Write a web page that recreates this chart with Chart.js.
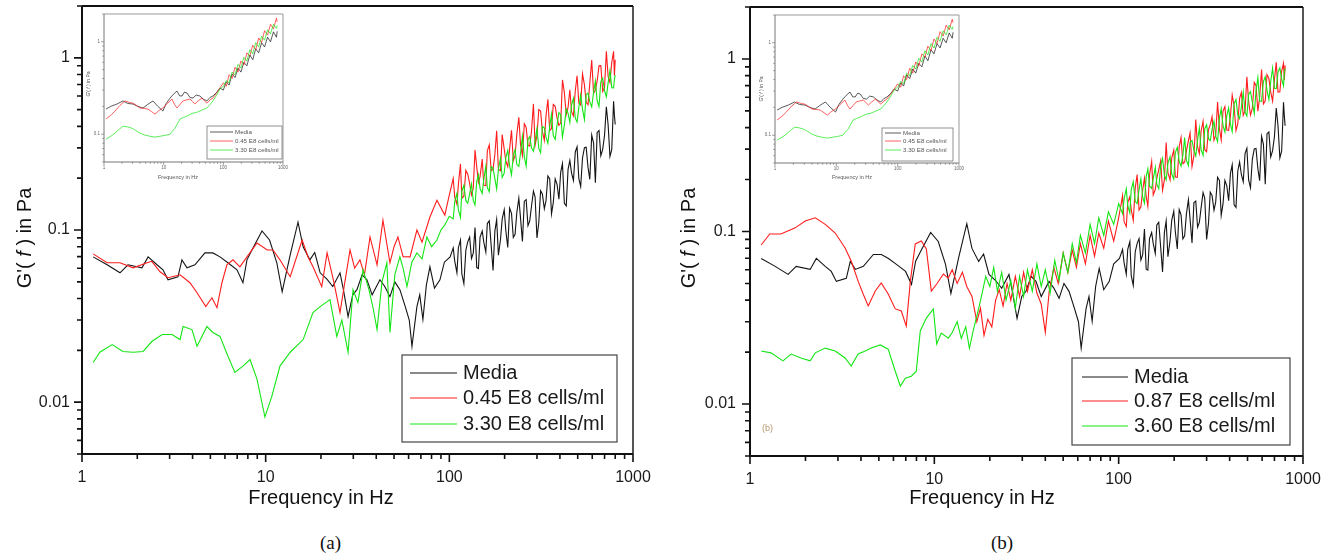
<!DOCTYPE html>
<html><head><meta charset="utf-8">
<script src="https://cdn.jsdelivr.net/npm/chart.js@4.4.1/dist/chart.umd.min.js"></script>
<style>
html,body{margin:0;padding:0;background:#fff;}
body{width:1333px;height:559px;position:relative;overflow:hidden;}
canvas{position:absolute;}
#mainA{left:0;top:0;} #mainB{left:666px;top:0;}
#insetA{left:78px;top:8px;} #insetB{left:749px;top:9px;}
.cap{position:absolute;top:533px;line-height:20px;font-family:"Liberation Serif","DejaVu Serif",serif;font-size:19px;color:#111;}
#capA{left:320px;} #capB{left:991px;}
#tagB{position:absolute;left:762px;top:423px;font:9px "Liberation Sans",Arial,sans-serif;color:#b89870;}
</style></head><body>
<canvas id="mainA" width="666" height="520"></canvas>
<canvas id="mainB" width="667" height="520"></canvas>
<canvas id="insetA" width="215" height="180"></canvas>
<canvas id="insetB" width="215" height="180"></canvas>
<div class="cap" id="capA">(a)</div>
<div class="cap" id="capB">(b)</div>
<div id="tagB">(b)</div>
<script>
// ---------- tick values / labels ----------
const xTickValues = [1, 10, 100, 1000];
const xTickLabels = ['1', '10', '100', '1000'];
const yTickValues = [0.01, 0.1, 1];
const yTickLabels = ['0.01', '0.1', '1'];
const insetYTickValues = [0.1, 1];
const insetYTickLabels = ['0.1', '1'];

// ---------- series names ----------
const namesA = ['Media', '0.45 E8 cells/ml', '3.30 E8 cells/ml'];
const namesB = ['Media', '0.87 E8 cells/ml', '3.60 E8 cells/ml'];
const namesInset = ['Media', '0.45 E8 cells/ml', '3.30 E8 cells/ml'];

// ---------- high-frequency grids (Hz) ----------
const hiFreq = [105,110,115,120,126,132,138,144,151,158,165,173,181,190,199,208,218,228,239,250,
  262,274,287,300,314,329,344,360,377,395,413,433,453,474,496,519,544,569,596,624,653,684,716,749,784,800];
const hiFreqMid = [107,112,117,123,129,135,141,147,154,161,169,177,185,194,203,213,223,233,244,256,
  268,280,293,307,321,336,352,368,386,404,423,443,463,485,507,531,556,582,610,638,668,700,732,766,792];

// ---------- Media (both panels) ----------
const mediaLo = [[1.15,0.0698],[1.37,0.0628],[1.61,0.0564],[1.78,0.0628],[2.12,0.0603],[2.29,0.0698],[2.56,0.0628],
  [2.76,0.0587],[2.94,0.0514],[3.33,0.0535],[3.50,0.0671],[3.73,0.0603],[4.12,0.0628],[4.67,0.0736],[5.16,0.0736],
  [5.64,0.0698],[6.23,0.0645],[6.98,0.0587],[7.52,0.0494],[7.91,0.0671],[8.42,0.0766],[9.55,0.0987],[10.5,0.0875],
  [11.5,0.0645],[12.3,0.0438],[13.6,0.0717],[15.0,0.111],[16.0,0.0798],[17.4,0.0671],[18.5,0.074],[19.8,0.0564],
  [21.5,0.052],[23.2,0.0469],[25.4,0.0564],[26.5,0.045],[28.1,0.0314],[29.8,0.042],[31.4,0.045],[33.5,0.055],
  [35.6,0.0514],[38,0.042],[41.9,0.0514],[44.5,0.047],[47.5,0.041],[50.5,0.05],[53.8,0.045],[57.5,0.036],[60.5,0.03],
  [62.6,0.0211],[66.6,0.0359],[69,0.042],[71.8,0.0302],[75,0.048],[78.4,0.0611],[83,0.046],[88.9,0.0514],[94,0.065],[101,0.0698]];
const mediaHi = [0.0787,0.0565,0.0875,0.0488,0.0854,0.0683,0.1035,0.0597,0.0987,0.0746,
  0.113,0.0582,0.115,0.0884,0.131,0.0792,0.125,0.0944,0.153,0.0857,
  0.150,0.113,0.168,0.0899,0.169,0.133,0.206,0.124,0.198,0.151,
  0.243,0.138,0.253,0.194,0.304,0.179,0.301,0.231,0.356,0.188,
  0.378,0.294,0.52,0.267,0.56,0.410];
const mediaMid = [0.0660,0.0789,0.0555,0.0763,0.0909,0.0734,0.0605,0.0910,0.0850,0.109,
  0.0811,0.0985,0.0714,0.116,0.0994,0.134,0.0905,0.126,0.118,0.147,
  0.106,0.137,0.156,0.111,0.162,0.148,0.198,0.144,0.184,0.217,
  0.143,0.225,0.214,0.284,0.199,0.262,0.303,0.197,0.320,0.369,
  0.270,0.355,0.409,0.293,0.466];

// ---------- Panel (a) ----------
const redALo = [[1.15,0.0727],[1.37,0.0645],[1.61,0.0645],[1.90,0.0603],[2.26,0.0645],[2.40,0.0658],[2.66,0.0572],
  [2.94,0.0528],[3.42,0.0549],[3.87,0.0494],[4.23,0.0432],[4.72,0.0359],[5.10,0.0404],[5.43,0.0354],[5.78,0.0494],
  [6.15,0.0628],[6.64,0.0671],[7.24,0.0611],[7.91,0.0698],[8.97,0.0841],[10.2,0.0766],[10.96,0.0766],[11.96,0.0671],
  [13.6,0.0535],[15.8,0.0875],[17,0.07],[18.1,0.0611],[20.2,0.0469],[21.6,0.0736],[23.5,0.05],[25.4,0.0331],[27,0.05],
  [28.8,0.0766],[30.5,0.06],[32.6,0.0671],[34.5,0.055],[37.0,0.0911],[40.4,0.0628],[43.5,0.114],[47.5,0.0645],[50,0.08],
  [52.5,0.0911],[56,0.07],[61.1,0.0698],[66.6,0.1],[71,0.085],[78.4,0.119],[85.6,0.149],[94.5,0.122],[100,0.16]];
const redAHi = [0.199,0.141,0.242,0.157,0.211,0.160,0.291,0.189,0.258,0.181,
  0.312,0.225,0.377,0.221,0.295,0.233,0.379,0.270,0.451,0.271,
  0.394,0.307,0.540,0.355,0.491,0.332,0.575,0.389,0.523,0.406,
  0.744,0.469,0.653,0.460,0.787,0.532,0.696,0.534,0.972,0.649,
  0.898,0.638,1.09,0.721,1.09,0.974];
const redAMid = [0.155,0.184,0.153,0.222,0.186,0.175,0.232,0.204,0.182,0.288,
  0.221,0.275,0.225,0.358,0.252,0.297,0.253,0.358,0.316,0.414,
  0.309,0.373,0.310,0.501,0.375,0.459,0.378,0.536,0.446,0.418,
  0.628,0.516,0.485,0.644,0.546,0.808,0.551,0.715,0.622,0.734,
  0.900,0.673,0.781,0.939,0.790];
const greenALo = [[1.15,0.0170],[1.25,0.0195],[1.46,0.0216],[1.67,0.0197],[1.90,0.0195],[2.15,0.0197],[2.40,0.0225],
  [2.73,0.0247],[3.09,0.0247],[3.42,0.0231],[3.55,0.0275],[3.97,0.0264],[4.23,0.0211],[4.79,0.0275],[5.16,0.0254],
  [5.64,0.0241],[6.23,0.0185],[6.80,0.0149],[7.52,0.0162],[8.22,0.0177],[8.97,0.0136],[9.91,0.0082],[10.8,0.0108],
  [11.96,0.0162],[13.6,0.0195],[16.0,0.0231],[18.1,0.0331],[19.8,0.0359],[22.4,0.0394],[24.4,0.0241],[26,0.03],
  [28.1,0.0195],[29.9,0.045],[31.8,0.038],[33.9,0.0587],[36.5,0.045],[38.5,0.035],[40.4,0.0264],[43,0.05],[45.7,0.0645],
  [47.5,0.0254],[50.5,0.055],[53.8,0.0698],[56,0.06],[58.8,0.0469],[62.5,0.065],[66.6,0.0736],[71,0.068],[75.5,0.0911],
  [80,0.08],[85.6,0.0875],[90,0.10],[94.5,0.107],[100,0.12]];
const greenAHi = [0.116,0.163,0.118,0.182,0.143,0.185,0.140,0.209,0.163,0.234,
  0.167,0.228,0.173,0.261,0.214,0.290,0.209,0.293,0.234,0.351,
  0.235,0.349,0.286,0.389,0.281,0.392,0.319,0.470,0.336,0.480,
  0.346,0.504,0.421,0.583,0.424,0.608,0.437,0.623,0.518,0.734,
  0.522,0.761,0.593,0.844,0.669,0.793];
const greenAMid = [0.146,0.131,0.168,0.148,0.162,0.148,0.191,0.174,0.197,0.176,
  0.233,0.199,0.225,0.202,0.262,0.235,0.272,0.240,0.278,0.266,
  0.336,0.300,0.330,0.297,0.399,0.346,0.397,0.354,0.409,0.468,
  0.406,0.477,0.534,0.446,0.515,0.503,0.612,0.555,0.631,0.563,
  0.728,0.642,0.716,0.671,0.749];

// ---------- Panel (b) ----------
const redBLo = [[1.15,0.0835],[1.28,0.0968],[1.47,0.0968],[1.76,0.105],[1.99,0.115],[2.26,0.120],[2.56,0.110],
  [2.90,0.098],[3.28,0.0802],[3.54,0.0675],[3.86,0.0516],[4.11,0.0434],[4.38,0.0370],[4.78,0.0452],[5.15,0.0503],
  [5.62,0.0434],[6.14,0.0356],[6.62,0.0346],[7.04,0.0283],[7.41,0.0516],[7.88,0.0847],[8.50,0.0881],[9.05,0.0792],
  [9.63,0.0452],[10.3,0.0496],[11.2,0.0567],[11.9,0.0537],
  [12.5,0.060],[13.3,0.050],[14.2,0.058],[15.0,0.048],[16.0,0.042],[17.0,0.030],[17.8,0.036],[18.6,0.025],[19.5,0.031],
  [20.5,0.028],[21.5,0.040],[22.5,0.046],[23.6,0.037],[24.8,0.050],[26.0,0.040],[27.5,0.055],[29,0.042],[30.5,0.058],
  [32,0.045],[34,0.060],[36,0.044],[38,0.038],[40,0.026],[42,0.045],[44.5,0.062],[47,0.050],[50,0.075],[53,0.058],
  [56,0.078],[59,0.062],[62,0.085],[66,0.065],[70,0.095],[74,0.072],[78,0.098],[83,0.080],[88,0.115],[94,0.088],[100,0.12]];
const redBHi = [0.161,0.107,0.159,0.116,0.214,0.139,0.204,0.140,0.255,0.175,
  0.228,0.173,0.328,0.199,0.296,0.206,0.350,0.252,0.336,0.238,
  0.445,0.283,0.435,0.290,0.416,0.338,0.563,0.339,0.529,0.386,
  0.618,0.385,0.591,0.471,0.788,0.473,0.732,0.498,0.868,0.572,
  0.772,0.569,0.957,0.646,0.944,0.918];
const redBMid = [0.114,0.147,0.134,0.179,0.133,0.174,0.160,0.212,0.163,0.203,
  0.257,0.199,0.219,0.266,0.207,0.310,0.247,0.292,0.373,0.274,
  0.309,0.381,0.298,0.389,0.462,0.360,0.395,0.497,0.387,0.467,
  0.532,0.423,0.639,0.501,0.566,0.517,0.703,0.600,0.549,0.812,
  0.644,0.759,0.643,0.850,0.752];
const greenBLo = [[1.15,0.0203],[1.30,0.0198],[1.51,0.0178],[1.67,0.0195],[1.89,0.0185],[2.12,0.0178],[2.26,0.0198],
  [2.56,0.0211],[2.90,0.0203],[3.28,0.0185],[3.54,0.0166],[3.86,0.0195],[4.22,0.0203],[4.55,0.0211],[5.09,0.0220],
  [5.62,0.0208],[6.14,0.0155],[6.54,0.0127],[6.96,0.0141],[7.50,0.0145],[7.98,0.0155],[8.39,0.0265],[9.05,0.0315],
  [9.88,0.0356],[10.3,0.0223],[10.9,0.0258],[11.9,0.0241],
  [12.5,0.026],[13.3,0.030],[14.0,0.024],[14.8,0.028],[15.5,0.021],[16.3,0.027],[17.2,0.034],[18.0,0.042],[19.0,0.055],
  [20.0,0.048],[21,0.062],[22,0.045],[23.2,0.058],[24.5,0.040],[26,0.052],[27.5,0.036],[29,0.055],[30.5,0.042],[32,0.060],
  [34,0.045],[36,0.065],[38,0.048],[40,0.060],[42.5,0.044],[45,0.068],[47.5,0.052],[50,0.075],[53,0.058],[56,0.085],
  [59,0.066],[62,0.095],[66,0.075],[70,0.11],[74,0.085],[78,0.12],[83,0.095],[88,0.13],[94,0.11],[100,0.145]];
const greenBHi = [0.127,0.177,0.128,0.194,0.145,0.202,0.146,0.231,0.178,0.235,
  0.177,0.266,0.199,0.271,0.201,0.308,0.239,0.350,0.241,0.337,
  0.274,0.398,0.276,0.416,0.336,0.436,0.332,0.514,0.377,0.520,
  0.379,0.582,0.452,0.642,0.467,0.647,0.482,0.777,0.568,0.788,
  0.583,0.886,0.674,0.888,0.699,0.878];
const greenBMid = [0.154,0.141,0.175,0.149,0.175,0.158,0.208,0.183,0.202,0.188,
  0.239,0.212,0.248,0.216,0.287,0.255,0.277,0.259,0.330,0.296,
  0.338,0.297,0.394,0.344,0.389,0.357,0.454,0.412,0.469,0.419,
  0.551,0.473,0.524,0.491,0.624,0.561,0.651,0.571,0.740,0.656,
  0.738,0.677,0.841,0.767,0.829];

// ---------- Inset (same in both panels) ----------
const insetMedia = [[1.08,0.187],[1.3,0.20],[1.65,0.212],[2.08,0.229],[2.5,0.215],[3.06,0.212],[3.7,0.20],[4.5,0.192],
  [5.4,0.21],[6.62,0.229],[8,0.20],[9.73,0.178],[11,0.215],[12.8,0.246],[14.5,0.27],[16.7,0.293],[18.5,0.26],[20.3,0.259],
  [22.3,0.285],[24.6,0.279],[27.5,0.25],[31,0.246],[35,0.265],[40.5,0.259],[46,0.24],[53.1,0.229],[60,0.25],[66.9,0.259],
  [76,0.28],[87.7,0.316],[100,0.30],[112,0.37],[125,0.34],[140,0.45],[157,0.41],[176,0.52],[197,0.47],[221,0.60],[248,0.55],
  [278,0.72],[311,0.64],[349,0.84],[391,0.76],[438,0.98],[491,0.88],[551,1.12],[617,1.0],[692,1.28],[776,1.12],[800,1.3]];
const insetRed = [[1.08,0.146],[1.3,0.16],[1.53,0.178],[1.85,0.205],[2.25,0.229],[2.7,0.22],[3.06,0.217],[3.5,0.205],
  [4.01,0.192],[4.7,0.19],[5.46,0.187],[6.3,0.175],[7.15,0.165],[8.3,0.18],[9.73,0.192],[11.5,0.215],[13.8,0.240],[15.2,0.21],
  [16.7,0.192],[18.8,0.21],[21.1,0.229],[24,0.235],[27.6,0.240],[30.5,0.225],[33.4,0.212],[38,0.23],[43.8,0.246],[48,0.23],
  [53.1,0.217],[60,0.235],[66.9,0.246],[76,0.275],[87.7,0.316],[100,0.36],[112,0.33],[125,0.44],[140,0.40],[157,0.53],
  [176,0.47],[197,0.62],[221,0.56],[248,0.76],[278,0.70],[311,0.92],[349,0.82],[391,1.1],[438,0.98],[491,1.32],[551,1.18],
  [617,1.55],[692,1.38],[776,1.8],[800,1.65]];
const insetGreen = [[1.08,0.0883],[1.3,0.095],[1.53,0.1026],[1.8,0.113],[2.08,0.122],[2.5,0.12],[2.94,0.116],[3.4,0.11],
  [4.01,0.1026],[4.8,0.098],[5.89,0.095],[7.1,0.093],[8.66,0.095],[10.5,0.097],[12.8,0.1],[14,0.108],[15.5,0.116],[17,0.13],
  [18.8,0.146],[21.5,0.152],[24.6,0.157],[27.5,0.163],[31,0.169],[35.5,0.172],[40.5,0.178],[46,0.185],[53.1,0.192],[60,0.21],
  [66.9,0.229],[76,0.26],[87.7,0.308],[100,0.33],[112,0.38],[125,0.36],[140,0.47],[157,0.44],[176,0.57],[197,0.52],[221,0.68],
  [248,0.62],[278,0.82],[311,0.74],[349,0.98],[391,0.88],[438,1.15],[491,1.04],[551,1.35],[617,1.22],[692,1.55],[776,1.4],[800,1.5]];

// ---------- helpers ----------
const COLORS = ['#141414', '#ff1c1c', '#14e614'];
const FONT = '"Liberation Sans", Arial, Helvetica, sans-serif';
Chart.defaults.font.family = FONT;
Chart.defaults.color = '#1a1a1a';

function pts(lo, hiF, hiV, midF, midV) {
  const a = lo.map(p => ({x: p[0], y: p[1]}));
  if (hiF) hiF.forEach((f, i) => a.push({x: f, y: hiV[i]}));
  if (midF) midF.forEach((f, i) => a.push({x: f, y: midV[i]}));
  return a.sort((p, q) => p.x - q.x);
}
function logPositions(min, max) {
  const out = [];
  for (let e = Math.floor(Math.log10(min)) - 1; e <= Math.ceil(Math.log10(max)); e++) {
    for (let m = 1; m < 10; m++) {
      const v = m * Math.pow(10, e);
      if (v >= min * 0.9999 && v <= max * 1.0001) out.push([v, m === 1]);
    }
  }
  return out;
}

const decor = {
  id: 'decor',
  afterDatasetsDraw(chart, args, o) {
    const {ctx, chartArea: a, scales: {x, y}} = chart;
    ctx.save();
    ctx.strokeStyle = o.axisColor; ctx.lineWidth = o.tickWidth;
    ctx.beginPath();
    for (const [v, maj] of logPositions(x.min, x.max)) {
      const px = x.getPixelForValue(v);
      ctx.moveTo(px, a.bottom); ctx.lineTo(px, a.bottom + (maj ? o.major : o.minor));
    }
    for (const [v, maj] of logPositions(y.min, y.max)) {
      const py = y.getPixelForValue(v);
      ctx.moveTo(a.left, py); ctx.lineTo(a.left - (maj ? o.major : o.minor), py);
    }
    ctx.stroke();
    ctx.lineWidth = o.frameWidth;
    ctx.strokeStyle = o.rightColor;
    ctx.beginPath(); ctx.moveTo(a.right, a.top); ctx.lineTo(a.right, a.bottom); ctx.stroke();
    ctx.strokeStyle = o.topColor;
    ctx.beginPath(); ctx.moveTo(a.left, a.top); ctx.lineTo(a.right, a.top); ctx.stroke();
    ctx.strokeStyle = o.axisColor;
    ctx.beginPath(); ctx.moveTo(a.left, a.top); ctx.lineTo(a.left, a.bottom); ctx.lineTo(a.right, a.bottom); ctx.stroke();
    const L = o.legend;
    if (L) {
      ctx.fillStyle = '#fff';
      ctx.fillRect(L.x0, L.y0, L.x1 - L.x0, L.y1 - L.y0);
      ctx.strokeStyle = L.border; ctx.lineWidth = L.borderWidth;
      ctx.strokeRect(L.x0, L.y0, L.x1 - L.x0, L.y1 - L.y0);
      ctx.font = L.size + 'px ' + FONT;
      ctx.textAlign = 'left'; ctx.textBaseline = 'middle';
      chart.data.datasets.forEach((ds, i) => {
        const ry = L.rows[i];
        ctx.strokeStyle = ds.borderColor; ctx.lineWidth = L.lineWidth;
        ctx.beginPath(); ctx.moveTo(L.lx0, ry); ctx.lineTo(L.lx1, ry); ctx.stroke();
        ctx.fillStyle = L.color;
        ctx.fillText(ds.label, L.tx, ry);
      });
    }
    ctx.fillStyle = o.titleColor;
    ctx.textBaseline = 'middle';
    const xt = o.xTitle;
    ctx.font = xt.size + 'px ' + FONT; ctx.textAlign = 'center';
    ctx.fillText(xt.text, xt.x, xt.y);
    const yt = o.yTitle;
    ctx.translate(yt.x, yt.y); ctx.rotate(-Math.PI / 2);
    const fonts = yt.parts.map(p => (p.italic ? 'italic ' : '') + yt.size + 'px ' + FONT);
    let total = 0;
    yt.parts.forEach((p, i) => { ctx.font = fonts[i]; total += ctx.measureText(p.t).width; });
    let cx = -total / 2;
    ctx.textAlign = 'left';
    yt.parts.forEach((p, i) => { ctx.font = fonts[i]; ctx.fillText(p.t, cx, 0); cx += ctx.measureText(p.t).width; });
    ctx.restore();
  }
};

function makeChart(id, series, names, cfg) {
  const datasets = series.map((d, i) => ({
    label: names[i], data: d, borderColor: COLORS[i], borderWidth: cfg.lineWidth,
    pointRadius: 0, tension: 0, fill: false, order: 2 - i
  }));
  return new Chart(document.getElementById(id), {
    type: 'line',
    data: {datasets},
    plugins: [decor],
    options: {
      responsive: false, animation: false, devicePixelRatio: 1,
      layout: {padding: cfg.padding},
      plugins: {legend: {display: false}, tooltip: {enabled: false}, decor: cfg.decor},
      scales: {
        x: {
          type: 'logarithmic', min: 1, max: 1000,
          afterBuildTicks: s => { s.ticks = xTickValues.map(v => ({value: v})); },
          afterFit: s => { s.height = cfg.xHeight; s.paddingLeft = 0; s.paddingRight = 0; },
          ticks: {autoSkip: false, maxRotation: 0, padding: cfg.xPad, color: cfg.tickColor,
                  font: {size: cfg.tickSize}, callback: (v, i) => xTickLabels[i]},
          grid: {display: false, drawTicks: false, tickLength: 0}, border: {display: false}
        },
        y: {
          type: 'logarithmic', min: cfg.yMin, max: cfg.yMax,
          afterBuildTicks: s => { s.ticks = cfg.yTicks.map(v => ({value: v})); },
          afterFit: s => { s.width = cfg.yWidth; s.paddingTop = 0; s.paddingBottom = 0; },
          ticks: {autoSkip: false, padding: cfg.yPad, color: cfg.tickColor,
                  font: {size: cfg.tickSize}, callback: (v, i) => cfg.yLabels[i]},
          grid: {display: false, drawTicks: false, tickLength: 0}, border: {display: false}
        }
      }
    }
  });
}

const yTitleParts = [{t: "G'( ", italic: false}, {t: 'f', italic: true}, {t: ' ) in Pa', italic: false}];
const mainBase = {
  lineWidth: 1.1, xHeight: 60, xPad: 14, yPad: 12, tickSize: 16, tickColor: '#1a1a1a',
  yMin: 0.005, yMax: 2, yTicks: yTickValues, yLabels: yTickLabels
};
const mainDecor = {
  axisColor: '#111', topColor: '#111', rightColor: '#555', frameWidth: 2, tickWidth: 1.6, major: 8, minor: 5,
  titleColor: '#111'
};

makeChart('mainA',
  [pts(mediaLo, hiFreq, mediaHi, hiFreqMid, mediaMid), pts(redALo, hiFreq, redAHi, hiFreqMid, redAMid),
   pts(greenALo, hiFreq, greenAHi, hiFreqMid, greenAMid)], namesA,
  Object.assign({}, mainBase, {
    padding: {left: 0, top: 6, right: 33, bottom: 6}, yWidth: 82,
    decor: Object.assign({}, mainDecor, {
      xTitle: {text: 'Frequency in Hz', x: 321, y: 498, size: 20},
      yTitle: {parts: yTitleParts, x: 25, y: 238, size: 20},
      legend: {x0: 402, y0: 355, x1: 617, y1: 442, lx0: 410, lx1: 457, tx: 463, rows: [373, 398, 424],
               size: 20, color: '#1a1a1a', border: '#444', borderWidth: 1.2, lineWidth: 1}
    })
  }));

makeChart('mainB',
  [pts(mediaLo, hiFreq, mediaHi, hiFreqMid, mediaMid), pts(redBLo, hiFreq, redBHi, hiFreqMid, redBMid),
   pts(greenBLo, hiFreq, greenBHi, hiFreqMid, greenBMid)], namesB,
  Object.assign({}, mainBase, {
    padding: {left: 0, top: 7, right: 30, bottom: 6}, yWidth: 84, xHeight: 58, xPad: 14, yPad: 14,
    decor: Object.assign({}, mainDecor, {
      xTitle: {text: 'Frequency in Hz', x: 316, y: 498, size: 20},
      yTitle: {parts: yTitleParts, x: 23, y: 238, size: 20},
      legend: {x0: 406, y0: 358, x1: 624, y1: 445, lx0: 416, lx1: 462, tx: 468, rows: [377, 401, 426],
               size: 20, color: '#1a1a1a', border: '#444', borderWidth: 1.2, lineWidth: 1}
    })
  }));

const insetBase = {
  lineWidth: 0.7, xHeight: 22, xPad: 3, yPad: 4, tickSize: 4.5, tickColor: '#666',
  yMin: 0.05, yMax: 2, yTicks: insetYTickValues, yLabels: insetYTickLabels, yWidth: 26
};
const insetDecor = {
  axisColor: '#777', topColor: '#999', rightColor: '#999', frameWidth: 1, tickWidth: 0.7, major: 3, minor: 1.8,
  titleColor: '#555'
};
const insetSeries = [pts(insetMedia), pts(insetRed), pts(insetGreen)];

makeChart('insetA', insetSeries, namesInset,
  Object.assign({}, insetBase, {
    padding: {left: 0, top: 6, right: 10, bottom: 4},
    decor: Object.assign({}, insetDecor, {
      xTitle: {text: 'Frequency in Hz', x: 100, y: 169, size: 5.5},
      yTitle: {parts: yTitleParts, x: 11, y: 76, size: 5},
      legend: {x0: 129, y0: 118, x1: 204, y1: 151, lx0: 132, lx1: 155, tx: 157, rows: [124, 133, 142],
               size: 6.2, color: '#555', border: '#777', borderWidth: 0.8, lineWidth: 0.7}
    })
  }));

makeChart('insetB', insetSeries, namesInset,
  Object.assign({}, insetBase, {
    padding: {left: 0, top: 6, right: 5, bottom: 4},
    decor: Object.assign({}, insetDecor, {
      xTitle: {text: 'Frequency in Hz', x: 103, y: 168, size: 5.5},
      yTitle: {parts: yTitleParts, x: 13, y: 80, size: 5},
      legend: {x0: 133, y0: 119, x1: 204, y1: 152, lx0: 136, lx1: 152, tx: 154, rows: [124, 132, 141],
               size: 6.2, color: '#555', border: '#777', borderWidth: 0.8, lineWidth: 0.7}
    })
  }));
</script>
</body></html>
